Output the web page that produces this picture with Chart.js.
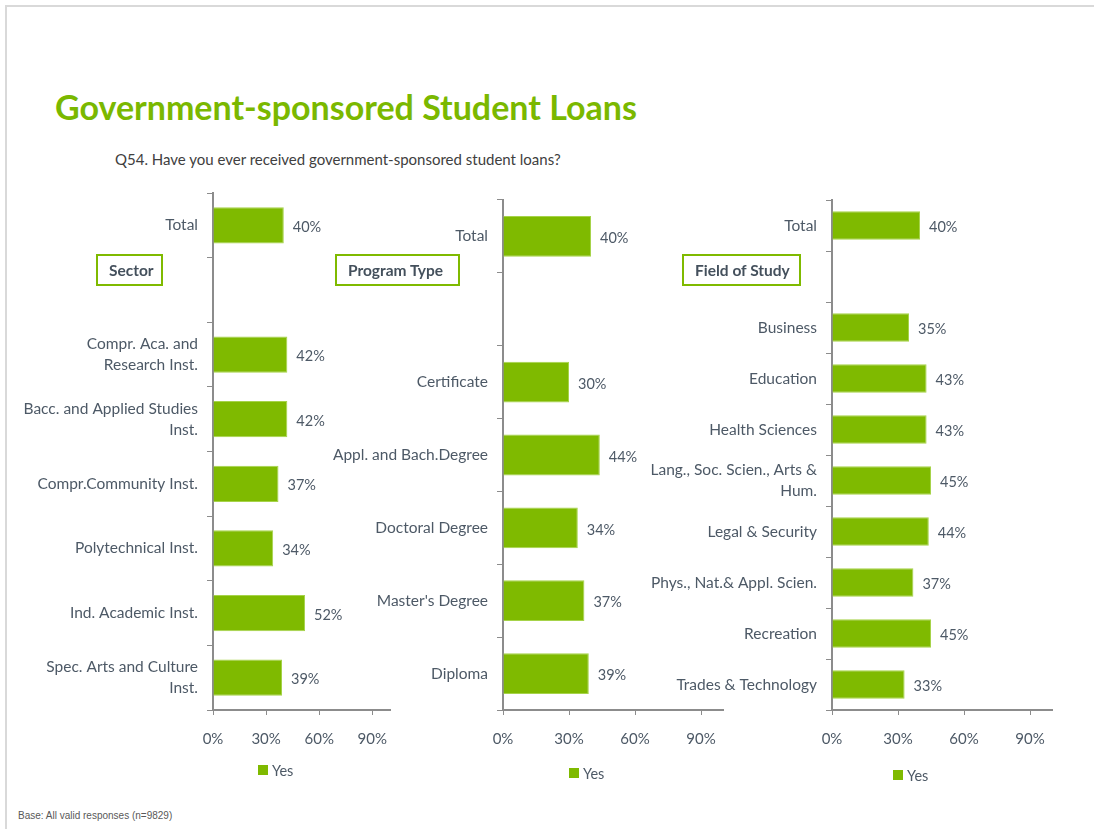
<!DOCTYPE html>
<html>
<head>
<title>Government-sponsored Student Loans</title>
<script src="https://cdn.jsdelivr.net/npm/chart.js"></script>
<style>
  body { margin: 0; width: 1094px; height: 829px; background: #fff; position: relative; overflow: hidden; font-family: Lato, sans-serif; }
  .frame { position: absolute; left: 5px; top: 5px; width: 1200px; height: 900px; border-top: 2px solid #d9d9d9; border-left: 2px solid #d9d9d9; }
  h1 { position: absolute; left: 55px; top: 86px; margin: 0; font-size: 34px; font-weight: bold; color: #7ab800; }
  .question { position: absolute; left: 115px; top: 150px; font-size: 15px; color: #404040; }
  .tag { position: absolute; top: 254px; height: 28px; border: 2px solid #7fba00; font-size: 15.5px; font-weight: bold; color: #44505c; line-height: 28px; padding-left: 11px; box-sizing: content-box; }
  .base { position: absolute; left: 18px; top: 810px; font-family: "Liberation Sans", Arial, sans-serif; font-size: 10px; color: #595959; }
  .box { position: absolute; }
</style>
</head>
<body>
<div class="frame"></div>
<h1>Government-sponsored Student Loans</h1>
<div class="question">Q54. Have you ever received government-sponsored student loans?</div>

<div class="box" style="left:10px; top:185px; width:390px; height:615px;"><canvas id="sector-chart"></canvas></div>
<div class="box" style="left:320px; top:192px; width:413px; height:608px;"><canvas id="program-chart"></canvas></div>
<div class="box" style="left:640px; top:192px; width:422px; height:608px;"><canvas id="field-chart"></canvas></div>

<div class="tag" style="left:96px; width:52px;">Sector</div>
<div class="tag" style="left:335px; width:110px;">Program Type</div>
<div class="tag" style="left:682px; width:104px;">Field of Study</div>

<div class="base">Base: All valid responses (n=9829)</div>

<script>
    // values (null = spacer row under "Total")
    const sectorLabels = ['Total', '', ['Compr. Aca. and', 'Research Inst.'], ['Bacc. and Applied Studies', 'Inst.'],
        'Compr.Community Inst.', 'Polytechnical Inst.', 'Ind. Academic Inst.', ['Spec. Arts and Culture', 'Inst.']];
    const sectorYes = [40, null, 42, 42, 37, 34, 52, 39];

    const programLabels = ['Total', '', 'Certificate', 'Appl. and Bach.Degree', 'Doctoral Degree', "Master's Degree", 'Diploma'];
    const programYes = [40, null, 30, 44, 34, 37, 39];

    const fieldLabels = ['Total', '', 'Business', 'Education', 'Health Sciences', ['Lang., Soc. Scien., Arts &', 'Hum.'],
        'Legal & Security', 'Phys., Nat.& Appl. Scien.', 'Recreation', 'Trades & Technology'];
    const fieldYes = [40, null, 35, 43, 43, 45, 44, 37, 45, 33];

    const xTicks = [0, 30, 60, 90];
    const seriesName = 'Yes';

    const green = '#7fba00';
    const textColor = '#4d5966';
    const axisColor = '#8c8c8c';

    const valueLabels = {
        id: 'valueLabels',
        afterDatasetsDraw(chart, args, opts) {
            const ctx = chart.ctx;
            const ds = chart.data.datasets[0];
            const meta = chart.getDatasetMeta(0);
            ctx.save();
            ctx.font = '14.5px Lato';
            ctx.fillStyle = textColor;
            ctx.textBaseline = 'middle';
            meta.data.forEach((bar, i) => {
                if (ds.data[i] == null) return;
                ctx.fillText(ds.data[i] + '%', bar.x + 9, bar.y + 2);
            });
            // legend
            const lx = chart.chartArea.left + opts.legendX;
            const ly = chart.chartArea.bottom + opts.legendY;
            ctx.fillStyle = ds.backgroundColor;
            ctx.fillRect(lx, ly - 5, 10, 10);
            ctx.fillStyle = textColor;
            ctx.fillText(ds.label, lx + 14, ly + 1);
            ctx.restore();
        }
    };

    function renderChart(id, labels, values, yWidth, barPct, legendX, legendY) {
        const ctx = document.getElementById(id).getContext('2d');
        return new Chart(ctx, {
            type: 'bar',
            data: {
                labels: labels,
                datasets: [{
                    label: seriesName,
                    data: values,
                    backgroundColor: green,
                    borderColor: '#a6d34a',
                    borderWidth: 1,
                    barPercentage: barPct,
                    categoryPercentage: 1
                }]
            },
            options: {
                indexAxis: 'y',
                responsive: true,
                maintainAspectRatio: false,
                animation: false,
                layout: { padding: { top: 8, right: 10, left: 0, bottom: 0 } },
                plugins: {
                    legend: { display: false },
                    tooltip: { enabled: false },
                    valueLabels: { legendX: legendX, legendY: legendY }
                },
                scales: {
                    x: {
                        min: 0,
                        max: 100,
                        afterBuildTicks: s => { s.ticks = xTicks.map(v => ({ value: v })); },
                        afterFit: s => { s.height = 90; s.paddingLeft = 0; s.paddingRight = 0; },
                        ticks: { callback: v => v + '%', color: textColor, font: { family: 'Lato', size: 15 }, padding: 15, maxRotation: 0 },
                        grid: { drawOnChartArea: false, tickLength: 5, color: axisColor },
                        border: { color: axisColor, width: 2 }
                    },
                    y: {
                        afterFit: s => { s.width = yWidth; s.paddingTop = 0; s.paddingBottom = 0; },
                        ticks: { color: textColor, font: { family: 'Lato', size: 15.5, lineHeight: 1.35 }, padding: 9, autoSkip: false },
                        grid: { drawOnChartArea: false, tickLength: 6, color: axisColor, offset: true },
                        border: { color: axisColor, width: 2 }
                    }
                }
            },
            plugins: [valueLabels]
        });
    }

    renderChart('sector-chart', sectorLabels, sectorYes, 203, 0.56, 45, 60);
    renderChart('program-chart', programLabels, programYes, 183, 0.56, 66, 63);
    renderChart('field-chart', fieldLabels, fieldYes, 192, 0.56, 61, 65);
</script>
</body>
</html>
